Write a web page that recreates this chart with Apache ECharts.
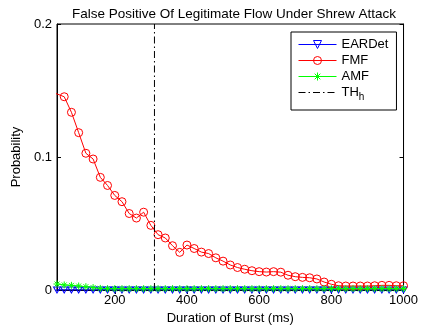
<!DOCTYPE html>
<html><head><meta charset="utf-8">
<script src="https://cdn.jsdelivr.net/npm/echarts@6/dist/echarts.min.js"></script>
<style>html,body{margin:0;padding:0;background:#fff}#c{width:421px;height:335px}</style>
</head><body><div id="c"></div>
<script>
// Duration of burst (ms)
var durations = [20,40,60,80,100,120,140,160,180,200,220,240,260,280,300,320,340,360,380,400,
  420,440,460,480,500,520,540,560,580,600,620,640,660,680,700,720,740,760,780,800,
  820,840,860,880,900,920,940,960,980,1000];
var eardet = [0,0,0,0,0,0,0,0,0,0,0,0,0,0,0,0,0,0,0,0,
  0,0,0,0,0,0,0,0,0,0,0,0,0,0,0,0,0,0,0,0,
  0,0,0,0,0,0,0,0,0,0];
var fmf = [0.1495,0.1474,0.1453,0.1336,0.1183,0.1028,0.0985,0.0847,0.0786,0.0711,0.0664,0.0575,0.0541,0.0585,0.0486,0.0416,0.0391,0.0333,0.0283,0.0338,
  0.0312,0.0285,0.0274,0.0242,0.0217,0.0188,0.0169,0.0156,0.0145,0.0138,0.0135,0.0138,0.0134,0.0111,0.0100,0.0095,0.0092,0.0083,0.0060,0.0043,
  0.0032,0.0030,0.0030,0.0030,0.0030,0.0032,0.0035,0.0035,0.0032,0.0032];
var amf = [0.0050,0.0045,0.0038,0.0035,0.0030,0.0025,0.0018,0.0012,0.0010,0.0010,0.0010,0.0010,0.0010,0.0010,0.0010,0.0010,0.0010,0.0010,0.0010,0.0010,
  0.0010,0.0010,0.0010,0.0010,0.0010,0.0010,0.0010,0.0010,0.0010,0.0010,0.0010,0.0010,0.0010,0.0010,0.0010,0.0010,0.0010,0.0010,0.0010,0.0010,
  0.0010,0.0010,0.0010,0.0010,0.0010,0.0010,0.0010,0.0010,0.0010,0.0010];
var thresholdX = 310;
var thresholdY = [0, 0.2];
var xTicks = [200,400,600,800,1000];
var seriesNames = ['EARDet','FMF','AMF','TH_h'];
// FMF has no marker drawn at the left border point
var fmfNoMarkerAt = [40];

function pairs(xs, ys){ return xs.map(function(x,i){ return [x, ys[i]]; }); }

var FONT = 'Liberation Sans, Arial, Helvetica, sans-serif';
var FS = 13;
var chart = echarts.init(document.getElementById('c'), null, {renderer:'canvas'});
var axisCommon = {
  axisLine:{show:true, lineStyle:{color:'#000', width:1}},
  axisTick:{show:true, inside:true, length:4, lineStyle:{color:'#000'}},
  splitLine:{show:false},
  axisLabel:{color:'#000', fontSize:FS, fontFamily:FONT, formatter:function(v){ return String(v); }}
};
var asterisk = 'path://M0,5L10,5M5,0L5,10M1.5,1.5L8.5,8.5M8.5,1.5L1.5,8.5';

var fmfData = pairs(durations, fmf).map(function(p){
  return fmfNoMarkerAt.indexOf(p[0]) >= 0 ? {value:p, symbol:'none'} : p;
});

chart.setOption({
  animation:false,
  backgroundColor:'#fff',
  title:{text:'False Positive Of Legitimate Flow Under Shrew Attack', left:229, textAlign:'center', top:2,
    textStyle:{fontSize:13.5, fontWeight:'normal', color:'#000', fontFamily:FONT}},
  grid:{left:57, right:17, top:24, bottom:45, show:true, borderColor:'#000', borderWidth:1, backgroundColor:'#fff'},
  legend:{
    orient:'vertical', left:291, top:32,
    backgroundColor:'#fff', borderColor:'#000', borderWidth:1,
    padding:[6,8,8,7], itemGap:3, itemWidth:38, itemHeight:10,
    lineStyle:{width:1},
    textStyle:{fontSize:FS, color:'#000', fontFamily:FONT,
      rich:{b:{fontSize:FS, fontFamily:FONT, color:'#000'}, s:{fontSize:10, fontFamily:FONT, color:'#000', padding:[9,0,0,0]}}},
    formatter:function(n){ return n==='TH_h' ? '{b|TH}{s|h}' : n; },
    data:[
      {name:'EARDet', itemStyle:{color:'rgba(0,0,0,0)', borderColor:'#0000ff', borderWidth:1}, lineStyle:{width:1}},
      {name:'FMF', itemStyle:{color:'rgba(0,0,0,0)', borderColor:'#ff0000', borderWidth:1}, lineStyle:{width:1}},
      {name:'AMF', itemStyle:{color:'rgba(0,0,0,0)', borderColor:'#00ff00', borderWidth:1}, lineStyle:{width:1}},
      {name:'TH_h', itemStyle:{opacity:0}, lineStyle:{width:1}}
    ]
  },
  xAxis:[
    Object.assign({}, axisCommon, {type:'value', min:40, max:1000, name:'Duration of Burst (ms)', nameLocation:'middle', nameGap:22,
      nameTextStyle:{color:'#000', fontSize:FS, fontFamily:FONT},
      axisLabel:Object.assign({}, axisCommon.axisLabel, {customValues:xTicks, margin:4}),
      axisTick:Object.assign({}, axisCommon.axisTick, {customValues:xTicks})}),
    Object.assign({}, axisCommon, {type:'value', min:40, max:1000, position:'top',
      axisLabel:{show:false},
      axisTick:Object.assign({}, axisCommon.axisTick, {customValues:xTicks})})
  ],
  yAxis:[
    Object.assign({}, axisCommon, {type:'value', min:0, max:0.2, interval:0.1, name:'Probability', nameLocation:'middle', nameGap:26,
      nameTextStyle:{color:'#000', fontSize:FS, fontFamily:FONT},
      axisLabel:Object.assign({}, axisCommon.axisLabel, {margin:5})}),
    Object.assign({}, axisCommon, {type:'value', min:0, max:0.2, interval:0.1, position:'right', axisLabel:{show:false}})
  ],
  series:[
    {name:'EARDet', type:'line', data:pairs(durations, eardet), symbol:'triangle', symbolRotate:180, symbolSize:[7,6],
      lineStyle:{color:'#0000ff', width:1}, itemStyle:{color:'rgba(0,0,255,0)', borderColor:'#0000ff', borderWidth:1},
      clip:true, z:2},
    {name:'FMF', type:'line', data:fmfData, symbol:'circle', symbolSize:8,
      lineStyle:{color:'#ff0000', width:1}, itemStyle:{color:'rgba(255,0,0,0)', borderColor:'#ff0000', borderWidth:1},
      clip:true, z:3},
    {name:'AMF', type:'line', data:pairs(durations, amf), symbol:asterisk, symbolSize:7,
      lineStyle:{color:'#00ff00', width:1}, itemStyle:{color:'rgba(0,255,0,0)', borderColor:'#00ff00', borderWidth:1},
      clip:true, z:4},
    {name:'TH_h', type:'line', data:[[thresholdX, thresholdY[0]],[thresholdX, thresholdY[1]]], symbol:'none',
      lineStyle:{color:'#000', width:1, type:[7,3,1.5,3]}, itemStyle:{color:'#000'}, z:5}
  ]
});
</script></body></html>
